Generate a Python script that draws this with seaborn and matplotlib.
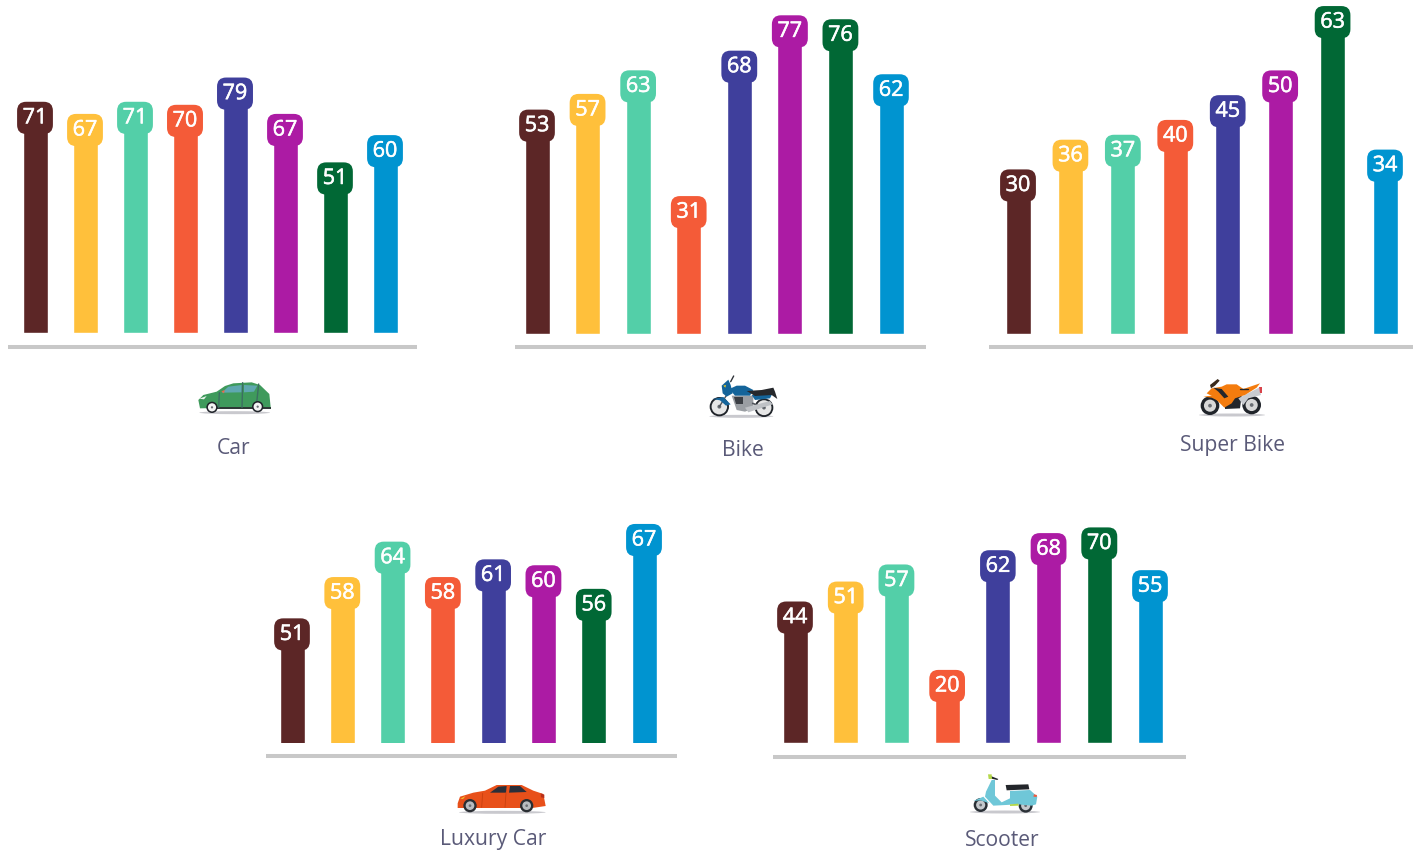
import matplotlib
matplotlib.use("Agg")
import matplotlib.pyplot as plt
import matplotlib.patheffects as pe
from matplotlib.patches import Circle, Ellipse, Polygon
import pandas as pd
import seaborn as sns

W, H = 1413, 851

# data
segments = ["A", "B", "C", "D", "E", "F", "G", "H"]
car = [71, 67, 71, 70, 79, 67, 51, 60]
bike = [53, 57, 63, 31, 68, 77, 76, 62]
super_bike = [30, 36, 37, 40, 45, 50, 63, 34]
luxury_car = [51, 58, 64, 58, 61, 60, 56, 67]
scooter = [44, 51, 57, 20, 62, 68, 70, 55]

colors = ["#5C2626", "#FFC03B", "#53CFA8", "#F45B38", "#3F3F9C", "#AC1BA4", "#016835", "#0094D0"]

sns.set_theme(style="white")
plt.rcParams["font.family"] = ["Open Sans", "DejaVu Sans"]

fig = plt.figure(figsize=(W / 100, H / 100), dpi=100)

# name, values, first bar px, last bar px, axis left, axis right, bar base px, baseline px, px per unit, floor
panels = [
    ("Car", car, 35, 385, 8, 417, 333, 347, 3.03, 0),
    ("Bike", bike, 537, 891, 515, 926, 334, 347, 3.93, 0),
    ("Super Bike", super_bike, 1018, 1385, 989, 1413, 334, 347, 4.95, 0),
    ("Luxury Car", luxury_car, 292, 644, 266, 677, 743, 756, 5.9, 32.6),
    ("Scooter", scooter, 795, 1150, 773, 1186, 743, 757, 2.85, 0),
]

for name, values, first, last, left, right, base, line_y, scale, floor in panels:
    top = 0 if base < 400 else 470
    ax = fig.add_axes([left / W, 1 - base / H, (right - left) / W, (base - top) / H])
    ax.patch.set_alpha(0)
    df = pd.DataFrame({"segment": segments, "value": values})
    step = (last - first) / 7
    sns.barplot(data=df, x="segment", y="value", hue="segment", palette=colors,
                width=25 / step, saturation=1, legend=False, ax=ax)
    ax.set_xlim((left - first) / step, (right - first) / step)
    ax.set_ylim(floor, floor + (base - top) / scale)
    ax.set_xlabel("")
    ax.set_ylabel("")
    ax.set_xticks([])
    ax.set_yticks([])
    sns.despine(ax=ax, left=True)
    spine = ax.spines["bottom"]
    spine.set_position(("outward", (line_y - base) * 0.72))
    spine.set_color("#C8C8C8")
    spine.set_linewidth(2.9)
    spine.set_capstyle("butt")
    for i, v in enumerate(values):
        ax.text(i, v, str(v), ha="center", va="center", color="white", fontsize=15.5,
                clip_on=False,
                path_effects=[pe.withStroke(linewidth=0.4, foreground="white")],
                bbox=dict(boxstyle="round,pad=0.26,rounding_size=0.42", fc=colors[i], ec="none"))

# overlay in pixel coordinates for the vehicle icons and captions
ov = fig.add_axes([0, 0, 1, 1], zorder=5)
ov.set_xlim(0, W)
ov.set_ylim(H, 0)
ov.axis("off")


def poly(ox, oy, pts, color, z=2):
    ov.add_patch(Polygon([(ox + x / 3, oy + y / 3) for x, y in pts], closed=True,
                         fc=color, ec="none", zorder=z))


def wheel(ox, oy, x, y, r, rim="#D8D8D8", tyre="#20242A", rim_frac=0.65):
    cx, cy = ox + x / 3, oy + y / 3
    ov.add_patch(Circle((cx, cy), r / 3, fc=tyre, ec="none", zorder=4))
    ov.add_patch(Circle((cx, cy), r * rim_frac / 3, fc=rim, ec="none", zorder=5))
    ov.add_patch(Circle((cx, cy), r * 0.2 / 3, fc="#6A6E74", ec="none", zorder=6))


def shadow(ox, oy, x0, x1, y):
    ov.add_patch(Ellipse((ox + (x0 + x1) / 6, oy + y / 3), (x1 - x0) / 3, 3, fc="#C9C9CE", ec="none", zorder=1))


def bar_line(ox, oy, x0, y0, x1, y1, color, lw=1.0, z=3):
    ov.plot([ox + x0 / 3, ox + x1 / 3], [oy + y0 / 3, oy + y1 / 3], color=color, lw=lw, zorder=z,
            solid_capstyle="round")


# car
ox, oy = 180, 320
shadow(ox, oy, 58, 270, 278)
poly(ox, oy, [(55, 240), (70, 225), (110, 215), (135, 198), (160, 190), (215, 187), (240, 195),
              (268, 222), (272, 262), (60, 265)], "#3F9A5C")
poly(ox, oy, [(125, 218), (145, 200), (185, 195), (185, 217)], "#5FA8B0", 3)
poly(ox, oy, [(192, 217), (192, 195), (232, 197), (222, 215)], "#5FA8B0", 3)
poly(ox, oy, [(90, 262), (272, 262), (272, 268), (90, 268)], "#2E3A36", 3)
bar_line(ox, oy, 116, 262, 118, 218, "#3C6E62")
bar_line(ox, oy, 186, 262, 188, 188, "#3C6E62")
bar_line(ox, oy, 230, 248, 236, 192, "#3C6E62")
poly(ox, oy, [(58, 236), (80, 228), (72, 238)], "#EAF5EE", 3)
poly(ox, oy, [(124, 214), (134, 210), (132, 220)], "#E8694A", 4)
wheel(ox, oy, 96, 262, 17, "#F4F4F4", rim_frac=0.72)
wheel(ox, oy, 233, 260, 17, "#F4F4F4", rim_frac=0.72)

# bike
ox, oy = 690, 365
shadow(ox, oy, 58, 250, 154)
wheel(ox, oy, 88, 125, 29, "#E6E6E6", rim_frac=0.8)
wheel(ox, oy, 222, 128, 28, "#E6E6E6", rim_frac=0.8)
poly(ox, oy, [(125, 92), (190, 92), (190, 130), (165, 140), (140, 135)], "#9A9EA3", 6)
poly(ox, oy, [(132, 95), (160, 95), (160, 118), (138, 118)], "#3A3E44", 7)
poly(ox, oy, [(165, 128), (240, 108), (248, 118), (175, 142)], "#BEC1C5", 7)
poly(ox, oy, [(185, 90), (245, 90), (240, 100), (195, 105)], "#14649A", 6)
poly(ox, oy, [(118, 72), (140, 62), (165, 62), (190, 75), (180, 92), (135, 92)], "#14649A", 7)
poly(ox, oy, [(170, 78), (215, 75), (250, 68), (255, 80), (262, 102), (245, 90), (195, 93)], "#26282C", 7)
poly(ox, oy, [(95, 62), (115, 44), (122, 60), (128, 85), (110, 95), (98, 85)], "#14649A", 7)
poly(ox, oy, [(68, 102), (100, 96), (122, 118), (108, 122), (90, 106)], "#14649A", 7)
bar_line(ox, oy, 110, 90, 88, 125, "#50555C", 1.0, 6)
bar_line(ox, oy, 188, 115, 222, 128, "#50555C", 1.2, 6)
bar_line(ox, oy, 122, 50, 131, 33, "#30343A", 1.0, 7)
poly(ox, oy, [(100, 62), (108, 60), (106, 68)], "#F2D21F", 8)

# super bike
ox, oy = 1185, 365
shadow(ox, oy, 42, 240, 150)
wheel(ox, oy, 75, 122, 28)
wheel(ox, oy, 200, 120, 28)
poly(ox, oy, [(120, 95), (170, 92), (165, 130), (120, 132)], "#23262B", 6)
poly(ox, oy, [(160, 100), (222, 68), (228, 90), (190, 100), (175, 120)], "#C8CBD0", 6)
poly(ox, oy, [(222, 65), (230, 65), (230, 85), (224, 85)], "#D8434A", 7)
poly(ox, oy, [(65, 85), (80, 70), (110, 65), (125, 58), (155, 58), (175, 72), (225, 55), (215, 68),
              (180, 90), (150, 100), (140, 115), (118, 128), (100, 110), (85, 95)], "#F47C0E", 7)
poly(ox, oy, [(55, 95), (95, 90), (105, 110), (80, 98)], "#F47C0E", 7)
poly(ox, oy, [(75, 60), (98, 42), (104, 47), (90, 62), (78, 70)], "#3A2A1C", 8)
poly(ox, oy, [(85, 68), (110, 72), (130, 95), (118, 100), (100, 80)], "#23262B", 8)
bar_line(ox, oy, 165, 72, 190, 72, "#23262B", 1.0, 8)

# luxury car
ox, oy = 445, 770
shadow(ox, oy, 42, 302, 127)
poly(ox, oy, [(38, 100), (45, 80), (85, 68), (120, 62), (155, 45), (230, 45), (265, 62), (295, 72),
              (302, 108), (262, 114), (38, 114)], "#E8501A")
poly(ox, oy, [(135, 68), (160, 50), (185, 48), (183, 68)], "#2A2F3A", 3)
poly(ox, oy, [(192, 68), (195, 48), (225, 48), (245, 66)], "#2A2F3A", 3)
poly(ox, oy, [(46, 86), (62, 78), (54, 87)], "#F2C72C", 3)
poly(ox, oy, [(287, 70), (298, 74), (298, 84), (288, 82)], "#B8301A", 3)
bar_line(ox, oy, 113, 70, 110, 112, "#C8400F", 0.6)
bar_line(ox, oy, 183, 68, 180, 112, "#C8400F", 0.6)
wheel(ox, oy, 75, 107, 20, "#B8BCC0", "#2A2E33")
wheel(ox, oy, 245, 107, 20, "#B8BCC0", "#2A2E33")

# scooter
ox, oy = 960, 765
shadow(ox, oy, 30, 240, 141)
wheel(ox, oy, 62, 120, 21, "#C4C8CC", "#2A3036")
wheel(ox, oy, 197, 122, 21, "#C4C8CC", "#2A3036")
poly(ox, oy, [(78, 80), (95, 45), (105, 45), (105, 92), (125, 112), (150, 100), (150, 78), (210, 75),
              (232, 95), (228, 118), (215, 122), (175, 118), (100, 122), (75, 95)], "#6FC7D8", 7)
poly(ox, oy, [(40, 108), (70, 95), (88, 115), (62, 106)], "#6FC7D8", 7)
poly(ox, oy, [(150, 118), (175, 116), (176, 122), (150, 123)], "#B5D84A", 8)
poly(ox, oy, [(137, 60), (205, 58), (208, 73), (140, 76)], "#23262B", 8)
poly(ox, oy, [(92, 33), (115, 42), (112, 45), (90, 40)], "#23262B", 8)
poly(ox, oy, [(84, 28), (95, 28), (96, 42), (86, 42)], "#B5D84A", 8)
poly(ox, oy, [(222, 88), (231, 90), (230, 96), (220, 95)], "#F05A3C", 8)

# captions
captions = {"Car": (234, 449), "Bike": (743, 451), "Super Bike": (1232, 446),
            "Luxury Car": (493, 840), "Scooter": (1002, 841)}
for label, (x, y) in captions.items():
    ov.text(x, y, label, ha="center", va="center", fontsize=15.2, color="#5A5A78")

fig.savefig("out.png", dpi=100)
